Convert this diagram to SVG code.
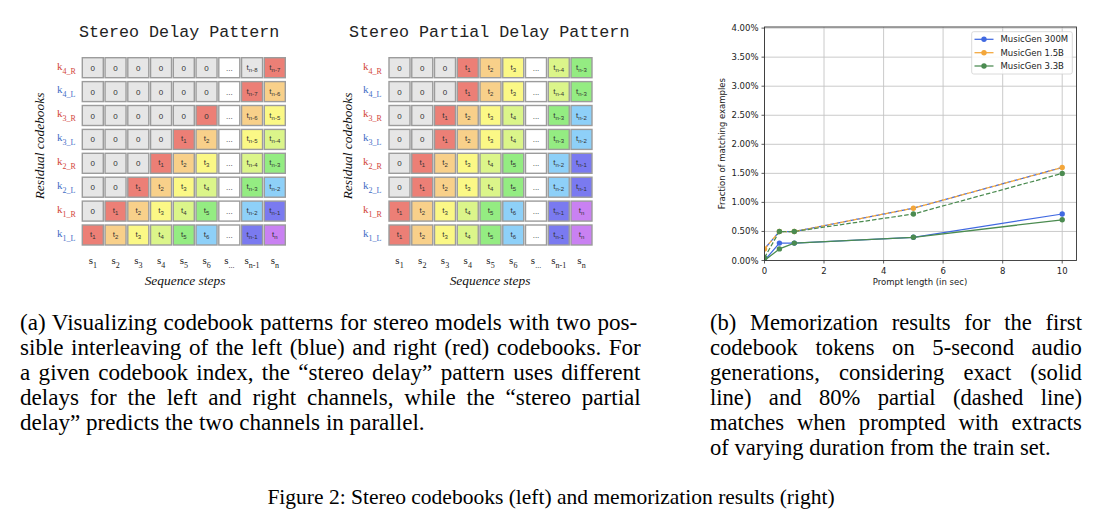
<svg xmlns="http://www.w3.org/2000/svg" width="1102" height="528" viewBox="0 0 1102 528">
<style>
.bg{fill:#fff}
.title{font-family:"Liberation Mono","DejaVu Sans Mono",monospace;font-size:16.7px;fill:#222}
.cell{stroke:#9c9c9c;stroke-width:1.4}
.z{fill:#e6e6e6}.w{fill:#fff}.r{fill:#ec7f76}.o{fill:#f8d08a}.y{fill:#fbf886}.l{fill:#dbf58a}.gr{fill:#94ec82}.lb{fill:#8ed0f8}.in{fill:#7a7af0}.pu{fill:#c981f2}
.ct{font-family:"Liberation Sans",Arial,sans-serif;font-size:8px;fill:#333;text-anchor:middle}
.sb{font-size:6px}
.kl{font-family:"Liberation Serif","Times New Roman",serif;font-size:11px}
.ks{font-size:8px}
.kR{fill:#d2453a}.kL{fill:#3f6cc6}
.sl{font-family:"Liberation Serif","Times New Roman",serif;font-size:11px;fill:#222;text-anchor:middle}
.ss{font-size:8px}
.it{font-family:"Liberation Serif","Times New Roman",serif;font-style:italic;font-size:13.4px;fill:#111;text-anchor:middle}
.capa{font-family:"Liberation Serif","Times New Roman",serif;font-size:23.1px;fill:#000}
.capb{font-family:"Liberation Serif","Times New Roman",serif;font-size:22.6px;fill:#000}
.fcap{font-family:"Liberation Serif","Times New Roman",serif;font-size:21.5px;fill:#000}
.ax{font-family:"DejaVu Sans","Liberation Sans",sans-serif;font-size:8.5px;fill:#222}
.grid{stroke:#c4c4c4;stroke-width:0.9;fill:none}
.spine{stroke:#333;stroke-width:0.9;fill:none}
.tick{stroke:#333;stroke-width:0.8}
.ln{fill:none;stroke-width:1.25;stroke-linejoin:round}
.dash{stroke-dasharray:4.5 2}
.cb{stroke:#4169e1}.co{stroke:#f3a63a}.cg{stroke:#4b8b50}
.fb{fill:#4169e1}.fo{fill:#f3a63a}.fg{fill:#4b8b50}
</style>
<defs>
<clipPath id="plotclip"><rect x="764.5" y="27" width="312" height="233.5"/></clipPath>
</defs>
<rect class="bg" x="0" y="0" width="1102" height="528"/>

<!-- Left panel: Stereo Delay Pattern -->
<g id="stereo-delay">
<text class="title" x="79" y="37.3">Stereo Delay Pattern</text>
<text class="it" transform="translate(43.5,146) rotate(-90)">Residual codebooks</text>
<g id="sd-labels">
<text class="kl kR" x="57" y="69.5">k<tspan class="ks" dy="4">4_R</tspan></text>
<text class="kl kL" x="57" y="93.4">k<tspan class="ks" dy="4">4_L</tspan></text>
<text class="kl kR" x="57" y="117.3">k<tspan class="ks" dy="4">3_R</tspan></text>
<text class="kl kL" x="57" y="141.2">k<tspan class="ks" dy="4">3_L</tspan></text>
<text class="kl kR" x="57" y="165.1">k<tspan class="ks" dy="4">2_R</tspan></text>
<text class="kl kL" x="57" y="189">k<tspan class="ks" dy="4">2_L</tspan></text>
<text class="kl kR" x="57" y="212.9">k<tspan class="ks" dy="4">1_R</tspan></text>
<text class="kl kL" x="57" y="236.8">k<tspan class="ks" dy="4">1_L</tspan></text>
</g>
<g id="sd-row-k4R" transform="translate(82.3,57.7)">
<rect class="cell z" x="0" y="0" width="21" height="20"/><text class="ct" x="10.5" y="13">0</text>
<rect class="cell z" x="22.75" y="0" width="21" height="20"/><text class="ct" x="33.25" y="13">0</text>
<rect class="cell z" x="45.5" y="0" width="21" height="20"/><text class="ct" x="56" y="13">0</text>
<rect class="cell z" x="68.25" y="0" width="21" height="20"/><text class="ct" x="78.75" y="13">0</text>
<rect class="cell z" x="91" y="0" width="21" height="20"/><text class="ct" x="101.5" y="13">0</text>
<rect class="cell z" x="113.75" y="0" width="21" height="20"/><text class="ct" x="124.25" y="13">0</text>
<rect class="cell w" x="136.5" y="0" width="21" height="20"/><text class="ct" x="147" y="13">...</text>
<rect class="cell z" x="159.25" y="0" width="21" height="20"/><text class="ct" x="169.75" y="12">t<tspan class="sb" dy="2">n-8</tspan></text>
<rect class="cell r" x="182" y="0" width="21" height="20"/><text class="ct" x="192.5" y="12">t<tspan class="sb" dy="2">n-7</tspan></text>
</g>
<g id="sd-row-k4L" transform="translate(82.3,81.6)">
<rect class="cell z" x="0" y="0" width="21" height="20"/><text class="ct" x="10.5" y="13">0</text>
<rect class="cell z" x="22.75" y="0" width="21" height="20"/><text class="ct" x="33.25" y="13">0</text>
<rect class="cell z" x="45.5" y="0" width="21" height="20"/><text class="ct" x="56" y="13">0</text>
<rect class="cell z" x="68.25" y="0" width="21" height="20"/><text class="ct" x="78.75" y="13">0</text>
<rect class="cell z" x="91" y="0" width="21" height="20"/><text class="ct" x="101.5" y="13">0</text>
<rect class="cell z" x="113.75" y="0" width="21" height="20"/><text class="ct" x="124.25" y="13">0</text>
<rect class="cell w" x="136.5" y="0" width="21" height="20"/><text class="ct" x="147" y="13">...</text>
<rect class="cell r" x="159.25" y="0" width="21" height="20"/><text class="ct" x="169.75" y="12">t<tspan class="sb" dy="2">n-7</tspan></text>
<rect class="cell o" x="182" y="0" width="21" height="20"/><text class="ct" x="192.5" y="12">t<tspan class="sb" dy="2">n-6</tspan></text>
</g>
<g id="sd-row-k3R" transform="translate(82.3,105.5)">
<rect class="cell z" x="0" y="0" width="21" height="20"/><text class="ct" x="10.5" y="13">0</text>
<rect class="cell z" x="22.75" y="0" width="21" height="20"/><text class="ct" x="33.25" y="13">0</text>
<rect class="cell z" x="45.5" y="0" width="21" height="20"/><text class="ct" x="56" y="13">0</text>
<rect class="cell z" x="68.25" y="0" width="21" height="20"/><text class="ct" x="78.75" y="13">0</text>
<rect class="cell z" x="91" y="0" width="21" height="20"/><text class="ct" x="101.5" y="13">0</text>
<rect class="cell r" x="113.75" y="0" width="21" height="20"/><text class="ct" x="124.25" y="13">0</text>
<rect class="cell w" x="136.5" y="0" width="21" height="20"/><text class="ct" x="147" y="13">...</text>
<rect class="cell o" x="159.25" y="0" width="21" height="20"/><text class="ct" x="169.75" y="12">t<tspan class="sb" dy="2">n-6</tspan></text>
<rect class="cell y" x="182" y="0" width="21" height="20"/><text class="ct" x="192.5" y="12">t<tspan class="sb" dy="2">n-5</tspan></text>
</g>
<g id="sd-row-k3L" transform="translate(82.3,129.4)">
<rect class="cell z" x="0" y="0" width="21" height="20"/><text class="ct" x="10.5" y="13">0</text>
<rect class="cell z" x="22.75" y="0" width="21" height="20"/><text class="ct" x="33.25" y="13">0</text>
<rect class="cell z" x="45.5" y="0" width="21" height="20"/><text class="ct" x="56" y="13">0</text>
<rect class="cell z" x="68.25" y="0" width="21" height="20"/><text class="ct" x="78.75" y="13">0</text>
<rect class="cell r" x="91" y="0" width="21" height="20"/><text class="ct" x="101.5" y="12">t<tspan class="sb" dy="2">1</tspan></text>
<rect class="cell o" x="113.75" y="0" width="21" height="20"/><text class="ct" x="124.25" y="12">t<tspan class="sb" dy="2">2</tspan></text>
<rect class="cell w" x="136.5" y="0" width="21" height="20"/><text class="ct" x="147" y="13">...</text>
<rect class="cell y" x="159.25" y="0" width="21" height="20"/><text class="ct" x="169.75" y="12">t<tspan class="sb" dy="2">n-5</tspan></text>
<rect class="cell l" x="182" y="0" width="21" height="20"/><text class="ct" x="192.5" y="12">t<tspan class="sb" dy="2">n-4</tspan></text>
</g>
<g id="sd-row-k2R" transform="translate(82.3,153.3)">
<rect class="cell z" x="0" y="0" width="21" height="20"/><text class="ct" x="10.5" y="13">0</text>
<rect class="cell z" x="22.75" y="0" width="21" height="20"/><text class="ct" x="33.25" y="13">0</text>
<rect class="cell z" x="45.5" y="0" width="21" height="20"/><text class="ct" x="56" y="13">0</text>
<rect class="cell r" x="68.25" y="0" width="21" height="20"/><text class="ct" x="78.75" y="12">t<tspan class="sb" dy="2">1</tspan></text>
<rect class="cell o" x="91" y="0" width="21" height="20"/><text class="ct" x="101.5" y="12">t<tspan class="sb" dy="2">2</tspan></text>
<rect class="cell y" x="113.75" y="0" width="21" height="20"/><text class="ct" x="124.25" y="12">t<tspan class="sb" dy="2">3</tspan></text>
<rect class="cell w" x="136.5" y="0" width="21" height="20"/><text class="ct" x="147" y="13">...</text>
<rect class="cell l" x="159.25" y="0" width="21" height="20"/><text class="ct" x="169.75" y="12">t<tspan class="sb" dy="2">n-4</tspan></text>
<rect class="cell gr" x="182" y="0" width="21" height="20"/><text class="ct" x="192.5" y="12">t<tspan class="sb" dy="2">n-3</tspan></text>
</g>
<g id="sd-row-k2L" transform="translate(82.3,177.2)">
<rect class="cell z" x="0" y="0" width="21" height="20"/><text class="ct" x="10.5" y="13">0</text>
<rect class="cell z" x="22.75" y="0" width="21" height="20"/><text class="ct" x="33.25" y="13">0</text>
<rect class="cell r" x="45.5" y="0" width="21" height="20"/><text class="ct" x="56" y="12">t<tspan class="sb" dy="2">1</tspan></text>
<rect class="cell o" x="68.25" y="0" width="21" height="20"/><text class="ct" x="78.75" y="12">t<tspan class="sb" dy="2">2</tspan></text>
<rect class="cell y" x="91" y="0" width="21" height="20"/><text class="ct" x="101.5" y="12">t<tspan class="sb" dy="2">3</tspan></text>
<rect class="cell l" x="113.75" y="0" width="21" height="20"/><text class="ct" x="124.25" y="12">t<tspan class="sb" dy="2">4</tspan></text>
<rect class="cell w" x="136.5" y="0" width="21" height="20"/><text class="ct" x="147" y="13">...</text>
<rect class="cell gr" x="159.25" y="0" width="21" height="20"/><text class="ct" x="169.75" y="12">t<tspan class="sb" dy="2">n-3</tspan></text>
<rect class="cell lb" x="182" y="0" width="21" height="20"/><text class="ct" x="192.5" y="12">t<tspan class="sb" dy="2">n-2</tspan></text>
</g>
<g id="sd-row-k1R" transform="translate(82.3,201.1)">
<rect class="cell z" x="0" y="0" width="21" height="20"/><text class="ct" x="10.5" y="13">0</text>
<rect class="cell r" x="22.75" y="0" width="21" height="20"/><text class="ct" x="33.25" y="12">t<tspan class="sb" dy="2">1</tspan></text>
<rect class="cell o" x="45.5" y="0" width="21" height="20"/><text class="ct" x="56" y="12">t<tspan class="sb" dy="2">2</tspan></text>
<rect class="cell y" x="68.25" y="0" width="21" height="20"/><text class="ct" x="78.75" y="12">t<tspan class="sb" dy="2">3</tspan></text>
<rect class="cell l" x="91" y="0" width="21" height="20"/><text class="ct" x="101.5" y="12">t<tspan class="sb" dy="2">4</tspan></text>
<rect class="cell gr" x="113.75" y="0" width="21" height="20"/><text class="ct" x="124.25" y="12">t<tspan class="sb" dy="2">5</tspan></text>
<rect class="cell w" x="136.5" y="0" width="21" height="20"/><text class="ct" x="147" y="13">...</text>
<rect class="cell lb" x="159.25" y="0" width="21" height="20"/><text class="ct" x="169.75" y="12">t<tspan class="sb" dy="2">n-2</tspan></text>
<rect class="cell in" x="182" y="0" width="21" height="20"/><text class="ct" x="192.5" y="12">t<tspan class="sb" dy="2">n-1</tspan></text>
</g>
<g id="sd-row-k1L" transform="translate(82.3,225)">
<rect class="cell r" x="0" y="0" width="21" height="20"/><text class="ct" x="10.5" y="12">t<tspan class="sb" dy="2">1</tspan></text>
<rect class="cell o" x="22.75" y="0" width="21" height="20"/><text class="ct" x="33.25" y="12">t<tspan class="sb" dy="2">2</tspan></text>
<rect class="cell y" x="45.5" y="0" width="21" height="20"/><text class="ct" x="56" y="12">t<tspan class="sb" dy="2">3</tspan></text>
<rect class="cell l" x="68.25" y="0" width="21" height="20"/><text class="ct" x="78.75" y="12">t<tspan class="sb" dy="2">4</tspan></text>
<rect class="cell gr" x="91" y="0" width="21" height="20"/><text class="ct" x="101.5" y="12">t<tspan class="sb" dy="2">5</tspan></text>
<rect class="cell lb" x="113.75" y="0" width="21" height="20"/><text class="ct" x="124.25" y="12">t<tspan class="sb" dy="2">6</tspan></text>
<rect class="cell w" x="136.5" y="0" width="21" height="20"/><text class="ct" x="147" y="13">...</text>
<rect class="cell in" x="159.25" y="0" width="21" height="20"/><text class="ct" x="169.75" y="12">t<tspan class="sb" dy="2">n-1</tspan></text>
<rect class="cell pu" x="182" y="0" width="21" height="20"/><text class="ct" x="192.5" y="12">t<tspan class="sb" dy="2">n</tspan></text>
</g>
<g id="sd-steps" transform="translate(82.3,264)">
<text class="sl" x="10.5">s<tspan class="ss" dy="3.5">1</tspan></text>
<text class="sl" x="33.25">s<tspan class="ss" dy="3.5">2</tspan></text>
<text class="sl" x="56">s<tspan class="ss" dy="3.5">3</tspan></text>
<text class="sl" x="78.75">s<tspan class="ss" dy="3.5">4</tspan></text>
<text class="sl" x="101.5">s<tspan class="ss" dy="3.5">5</tspan></text>
<text class="sl" x="124.25">s<tspan class="ss" dy="3.5">6</tspan></text>
<text class="sl" x="147">s<tspan class="ss" dy="3.5">...</tspan></text>
<text class="sl" x="169.75">s<tspan class="ss" dy="3.5">n-1</tspan></text>
<text class="sl" x="192.5">s<tspan class="ss" dy="3.5">n</tspan></text>
</g>
<text class="it" x="185" y="285">Sequence steps</text>
</g>

<!-- Middle panel: Stereo Partial Delay Pattern -->
<g id="stereo-partial-delay">
<text class="title" x="349" y="37.3">Stereo Partial Delay Pattern</text>
<text class="it" transform="translate(352,146) rotate(-90)">Residual codebooks</text>
<g id="spd-labels">
<text class="kl kR" x="363" y="69.5">k<tspan class="ks" dy="4">4_R</tspan></text>
<text class="kl kL" x="363" y="93.4">k<tspan class="ks" dy="4">4_L</tspan></text>
<text class="kl kR" x="363" y="117.3">k<tspan class="ks" dy="4">3_R</tspan></text>
<text class="kl kL" x="363" y="141.2">k<tspan class="ks" dy="4">3_L</tspan></text>
<text class="kl kR" x="363" y="165.1">k<tspan class="ks" dy="4">2_R</tspan></text>
<text class="kl kL" x="363" y="189">k<tspan class="ks" dy="4">2_L</tspan></text>
<text class="kl kR" x="363" y="212.9">k<tspan class="ks" dy="4">1_R</tspan></text>
<text class="kl kL" x="363" y="236.8">k<tspan class="ks" dy="4">1_L</tspan></text>
</g>
<g id="spd-row-k4R" transform="translate(389,57.7)">
<rect class="cell z" x="0" y="0" width="21" height="20"/><text class="ct" x="10.5" y="13">0</text>
<rect class="cell z" x="22.75" y="0" width="21" height="20"/><text class="ct" x="33.25" y="13">0</text>
<rect class="cell z" x="45.5" y="0" width="21" height="20"/><text class="ct" x="56" y="13">0</text>
<rect class="cell r" x="68.25" y="0" width="21" height="20"/><text class="ct" x="78.75" y="12">t<tspan class="sb" dy="2">1</tspan></text>
<rect class="cell o" x="91" y="0" width="21" height="20"/><text class="ct" x="101.5" y="12">t<tspan class="sb" dy="2">2</tspan></text>
<rect class="cell y" x="113.75" y="0" width="21" height="20"/><text class="ct" x="124.25" y="12">t<tspan class="sb" dy="2">3</tspan></text>
<rect class="cell w" x="136.5" y="0" width="21" height="20"/><text class="ct" x="147" y="13">...</text>
<rect class="cell l" x="159.25" y="0" width="21" height="20"/><text class="ct" x="169.75" y="12">t<tspan class="sb" dy="2">n-4</tspan></text>
<rect class="cell gr" x="182" y="0" width="21" height="20"/><text class="ct" x="192.5" y="12">t<tspan class="sb" dy="2">n-3</tspan></text>
</g>
<g id="spd-row-k4L" transform="translate(389,81.6)">
<rect class="cell z" x="0" y="0" width="21" height="20"/><text class="ct" x="10.5" y="13">0</text>
<rect class="cell z" x="22.75" y="0" width="21" height="20"/><text class="ct" x="33.25" y="13">0</text>
<rect class="cell z" x="45.5" y="0" width="21" height="20"/><text class="ct" x="56" y="13">0</text>
<rect class="cell r" x="68.25" y="0" width="21" height="20"/><text class="ct" x="78.75" y="12">t<tspan class="sb" dy="2">1</tspan></text>
<rect class="cell o" x="91" y="0" width="21" height="20"/><text class="ct" x="101.5" y="12">t<tspan class="sb" dy="2">2</tspan></text>
<rect class="cell y" x="113.75" y="0" width="21" height="20"/><text class="ct" x="124.25" y="12">t<tspan class="sb" dy="2">3</tspan></text>
<rect class="cell w" x="136.5" y="0" width="21" height="20"/><text class="ct" x="147" y="13">...</text>
<rect class="cell l" x="159.25" y="0" width="21" height="20"/><text class="ct" x="169.75" y="12">t<tspan class="sb" dy="2">n-4</tspan></text>
<rect class="cell gr" x="182" y="0" width="21" height="20"/><text class="ct" x="192.5" y="12">t<tspan class="sb" dy="2">n-3</tspan></text>
</g>
<g id="spd-row-k3R" transform="translate(389,105.5)">
<rect class="cell z" x="0" y="0" width="21" height="20"/><text class="ct" x="10.5" y="13">0</text>
<rect class="cell z" x="22.75" y="0" width="21" height="20"/><text class="ct" x="33.25" y="13">0</text>
<rect class="cell r" x="45.5" y="0" width="21" height="20"/><text class="ct" x="56" y="12">t<tspan class="sb" dy="2">1</tspan></text>
<rect class="cell o" x="68.25" y="0" width="21" height="20"/><text class="ct" x="78.75" y="12">t<tspan class="sb" dy="2">2</tspan></text>
<rect class="cell y" x="91" y="0" width="21" height="20"/><text class="ct" x="101.5" y="12">t<tspan class="sb" dy="2">3</tspan></text>
<rect class="cell l" x="113.75" y="0" width="21" height="20"/><text class="ct" x="124.25" y="12">t<tspan class="sb" dy="2">4</tspan></text>
<rect class="cell w" x="136.5" y="0" width="21" height="20"/><text class="ct" x="147" y="13">...</text>
<rect class="cell gr" x="159.25" y="0" width="21" height="20"/><text class="ct" x="169.75" y="12">t<tspan class="sb" dy="2">n-3</tspan></text>
<rect class="cell lb" x="182" y="0" width="21" height="20"/><text class="ct" x="192.5" y="12">t<tspan class="sb" dy="2">n-2</tspan></text>
</g>
<g id="spd-row-k3L" transform="translate(389,129.4)">
<rect class="cell z" x="0" y="0" width="21" height="20"/><text class="ct" x="10.5" y="13">0</text>
<rect class="cell z" x="22.75" y="0" width="21" height="20"/><text class="ct" x="33.25" y="13">0</text>
<rect class="cell r" x="45.5" y="0" width="21" height="20"/><text class="ct" x="56" y="12">t<tspan class="sb" dy="2">1</tspan></text>
<rect class="cell o" x="68.25" y="0" width="21" height="20"/><text class="ct" x="78.75" y="12">t<tspan class="sb" dy="2">2</tspan></text>
<rect class="cell y" x="91" y="0" width="21" height="20"/><text class="ct" x="101.5" y="12">t<tspan class="sb" dy="2">3</tspan></text>
<rect class="cell l" x="113.75" y="0" width="21" height="20"/><text class="ct" x="124.25" y="12">t<tspan class="sb" dy="2">4</tspan></text>
<rect class="cell w" x="136.5" y="0" width="21" height="20"/><text class="ct" x="147" y="13">...</text>
<rect class="cell gr" x="159.25" y="0" width="21" height="20"/><text class="ct" x="169.75" y="12">t<tspan class="sb" dy="2">n-3</tspan></text>
<rect class="cell lb" x="182" y="0" width="21" height="20"/><text class="ct" x="192.5" y="12">t<tspan class="sb" dy="2">n-2</tspan></text>
</g>
<g id="spd-row-k2R" transform="translate(389,153.3)">
<rect class="cell z" x="0" y="0" width="21" height="20"/><text class="ct" x="10.5" y="13">0</text>
<rect class="cell r" x="22.75" y="0" width="21" height="20"/><text class="ct" x="33.25" y="12">t<tspan class="sb" dy="2">1</tspan></text>
<rect class="cell o" x="45.5" y="0" width="21" height="20"/><text class="ct" x="56" y="12">t<tspan class="sb" dy="2">2</tspan></text>
<rect class="cell y" x="68.25" y="0" width="21" height="20"/><text class="ct" x="78.75" y="12">t<tspan class="sb" dy="2">3</tspan></text>
<rect class="cell l" x="91" y="0" width="21" height="20"/><text class="ct" x="101.5" y="12">t<tspan class="sb" dy="2">4</tspan></text>
<rect class="cell gr" x="113.75" y="0" width="21" height="20"/><text class="ct" x="124.25" y="12">t<tspan class="sb" dy="2">5</tspan></text>
<rect class="cell w" x="136.5" y="0" width="21" height="20"/><text class="ct" x="147" y="13">...</text>
<rect class="cell lb" x="159.25" y="0" width="21" height="20"/><text class="ct" x="169.75" y="12">t<tspan class="sb" dy="2">n-2</tspan></text>
<rect class="cell in" x="182" y="0" width="21" height="20"/><text class="ct" x="192.5" y="12">t<tspan class="sb" dy="2">n-1</tspan></text>
</g>
<g id="spd-row-k2L" transform="translate(389,177.2)">
<rect class="cell z" x="0" y="0" width="21" height="20"/><text class="ct" x="10.5" y="13">0</text>
<rect class="cell r" x="22.75" y="0" width="21" height="20"/><text class="ct" x="33.25" y="12">t<tspan class="sb" dy="2">1</tspan></text>
<rect class="cell o" x="45.5" y="0" width="21" height="20"/><text class="ct" x="56" y="12">t<tspan class="sb" dy="2">2</tspan></text>
<rect class="cell y" x="68.25" y="0" width="21" height="20"/><text class="ct" x="78.75" y="12">t<tspan class="sb" dy="2">3</tspan></text>
<rect class="cell l" x="91" y="0" width="21" height="20"/><text class="ct" x="101.5" y="12">t<tspan class="sb" dy="2">4</tspan></text>
<rect class="cell gr" x="113.75" y="0" width="21" height="20"/><text class="ct" x="124.25" y="12">t<tspan class="sb" dy="2">5</tspan></text>
<rect class="cell w" x="136.5" y="0" width="21" height="20"/><text class="ct" x="147" y="13">...</text>
<rect class="cell lb" x="159.25" y="0" width="21" height="20"/><text class="ct" x="169.75" y="12">t<tspan class="sb" dy="2">n-2</tspan></text>
<rect class="cell in" x="182" y="0" width="21" height="20"/><text class="ct" x="192.5" y="12">t<tspan class="sb" dy="2">n-1</tspan></text>
</g>
<g id="spd-row-k1R" transform="translate(389,201.1)">
<rect class="cell r" x="0" y="0" width="21" height="20"/><text class="ct" x="10.5" y="12">t<tspan class="sb" dy="2">1</tspan></text>
<rect class="cell o" x="22.75" y="0" width="21" height="20"/><text class="ct" x="33.25" y="12">t<tspan class="sb" dy="2">2</tspan></text>
<rect class="cell y" x="45.5" y="0" width="21" height="20"/><text class="ct" x="56" y="12">t<tspan class="sb" dy="2">3</tspan></text>
<rect class="cell l" x="68.25" y="0" width="21" height="20"/><text class="ct" x="78.75" y="12">t<tspan class="sb" dy="2">4</tspan></text>
<rect class="cell gr" x="91" y="0" width="21" height="20"/><text class="ct" x="101.5" y="12">t<tspan class="sb" dy="2">5</tspan></text>
<rect class="cell lb" x="113.75" y="0" width="21" height="20"/><text class="ct" x="124.25" y="12">t<tspan class="sb" dy="2">6</tspan></text>
<rect class="cell w" x="136.5" y="0" width="21" height="20"/><text class="ct" x="147" y="13">...</text>
<rect class="cell in" x="159.25" y="0" width="21" height="20"/><text class="ct" x="169.75" y="12">t<tspan class="sb" dy="2">n-1</tspan></text>
<rect class="cell pu" x="182" y="0" width="21" height="20"/><text class="ct" x="192.5" y="12">t<tspan class="sb" dy="2">n</tspan></text>
</g>
<g id="spd-row-k1L" transform="translate(389,225)">
<rect class="cell r" x="0" y="0" width="21" height="20"/><text class="ct" x="10.5" y="12">t<tspan class="sb" dy="2">1</tspan></text>
<rect class="cell o" x="22.75" y="0" width="21" height="20"/><text class="ct" x="33.25" y="12">t<tspan class="sb" dy="2">2</tspan></text>
<rect class="cell y" x="45.5" y="0" width="21" height="20"/><text class="ct" x="56" y="12">t<tspan class="sb" dy="2">3</tspan></text>
<rect class="cell l" x="68.25" y="0" width="21" height="20"/><text class="ct" x="78.75" y="12">t<tspan class="sb" dy="2">4</tspan></text>
<rect class="cell gr" x="91" y="0" width="21" height="20"/><text class="ct" x="101.5" y="12">t<tspan class="sb" dy="2">5</tspan></text>
<rect class="cell lb" x="113.75" y="0" width="21" height="20"/><text class="ct" x="124.25" y="12">t<tspan class="sb" dy="2">6</tspan></text>
<rect class="cell w" x="136.5" y="0" width="21" height="20"/><text class="ct" x="147" y="13">...</text>
<rect class="cell in" x="159.25" y="0" width="21" height="20"/><text class="ct" x="169.75" y="12">t<tspan class="sb" dy="2">n-1</tspan></text>
<rect class="cell pu" x="182" y="0" width="21" height="20"/><text class="ct" x="192.5" y="12">t<tspan class="sb" dy="2">n</tspan></text>
</g>
<g id="spd-steps" transform="translate(389,264)">
<text class="sl" x="10.5">s<tspan class="ss" dy="3.5">1</tspan></text>
<text class="sl" x="33.25">s<tspan class="ss" dy="3.5">2</tspan></text>
<text class="sl" x="56">s<tspan class="ss" dy="3.5">3</tspan></text>
<text class="sl" x="78.75">s<tspan class="ss" dy="3.5">4</tspan></text>
<text class="sl" x="101.5">s<tspan class="ss" dy="3.5">5</tspan></text>
<text class="sl" x="124.25">s<tspan class="ss" dy="3.5">6</tspan></text>
<text class="sl" x="147">s<tspan class="ss" dy="3.5">...</tspan></text>
<text class="sl" x="169.75">s<tspan class="ss" dy="3.5">n-1</tspan></text>
<text class="sl" x="192.5">s<tspan class="ss" dy="3.5">n</tspan></text>
</g>
<text class="it" x="490" y="285">Sequence steps</text>
</g>

<!-- Right panel: chart -->
<g id="chart">
<g id="chart-grid" class="grid">
<path d="M764.5 27V260.5M824 27V260.5M883.6 27V260.5M943.1 27V260.5M1002.7 27V260.5M1062.2 27V260.5"/>
<path d="M764.5 231.45H1076.5M764.5 202.4H1076.5M764.5 173.35H1076.5M764.5 144.3H1076.5M764.5 115.25H1076.5M764.5 86.2H1076.5M764.5 57.15H1076.5M764.5 28.1H1076.5"/>
</g>
<g id="chart-ticks" class="tick">
<path d="M761.5 260.5H764.5M761.5 231.45H764.5M761.5 202.4H764.5M761.5 173.35H764.5M761.5 144.3H764.5M761.5 115.25H764.5M761.5 86.2H764.5M761.5 57.15H764.5M761.5 28.1H764.5"/>
<path d="M764.5 260.5V263.5M824 260.5V263.5M883.6 260.5V263.5M943.1 260.5V263.5M1002.7 260.5V263.5M1062.2 260.5V263.5"/>
</g>
<g id="y-ticklabels" class="ax" text-anchor="end">
<text x="758.5" y="263.5">0.00%</text>
<text x="758.5" y="234.45">0.50%</text>
<text x="758.5" y="205.4">1.00%</text>
<text x="758.5" y="176.35">1.50%</text>
<text x="758.5" y="147.3">2.00%</text>
<text x="758.5" y="118.25">2.50%</text>
<text x="758.5" y="89.2">3.00%</text>
<text x="758.5" y="60.15">3.50%</text>
<text x="758.5" y="31.1">4.00%</text>
</g>
<g id="x-ticklabels" class="ax" text-anchor="middle">
<text x="764.5" y="273.8">0</text>
<text x="824" y="273.8">2</text>
<text x="883.6" y="273.8">4</text>
<text x="943.1" y="273.8">6</text>
<text x="1002.7" y="273.8">8</text>
<text x="1062.2" y="273.8">10</text>
</g>
<text class="ax" x="920" y="284.8" text-anchor="middle">Prompt length (in sec)</text>
<text class="ax" transform="translate(725,143.6) rotate(-90)" text-anchor="middle">Fraction of matching examples</text>
<g id="series" clip-path="url(#plotclip)">
<g id="s300m">
<polyline class="ln cb" points="764.5,260.5 779.4,243.1 794.3,243.1 913.4,237.3 1062.2,214"/>
<polyline class="ln cb dash" style="stroke-dashoffset:3.2" points="764.5,248.9 779.4,231.5 794.3,231.5 913.4,208.2 1062.2,167.5"/>
<g class="fb">
<circle cx="764.5" cy="260.5" r="2.7"/><circle cx="779.4" cy="243.1" r="2.7"/><circle cx="794.3" cy="243.1" r="2.7"/><circle cx="913.4" cy="237.3" r="2.7"/><circle cx="1062.2" cy="214" r="2.7"/>
</g>
</g>
<g id="s15b">
<polyline class="ln co dash" points="764.5,248.9 779.4,231.5 794.3,231.5 913.4,208.2 1062.2,167.5"/>
<g class="fo">
<circle cx="764.5" cy="248.9" r="2.7"/><circle cx="779.4" cy="231.5" r="2.7"/><circle cx="794.3" cy="231.5" r="2.7"/><circle cx="913.4" cy="208.2" r="2.7"/><circle cx="1062.2" cy="167.5" r="2.7"/>
</g>
</g>
<g id="s33b">
<polyline class="ln cg" points="764.5,260.5 779.4,248.9 794.3,243.1 913.4,237.3 1062.2,219.8"/>
<polyline class="ln cg dash" points="764.5,257.6 779.4,231.5 794.3,231.5 913.4,214 1062.2,173.4"/>
<g class="fg">
<circle cx="764.5" cy="260.5" r="2.7"/><circle cx="779.4" cy="248.9" r="2.7"/><circle cx="794.3" cy="243.1" r="2.7"/><circle cx="913.4" cy="237.3" r="2.7"/><circle cx="1062.2" cy="219.8" r="2.7"/>
<circle cx="764.5" cy="257.6" r="2.7"/><circle cx="779.4" cy="231.5" r="2.7"/><circle cx="794.3" cy="231.5" r="2.7"/><circle cx="913.4" cy="214" r="2.7"/><circle cx="1062.2" cy="173.4" r="2.7"/>
</g>
</g>
</g>
<rect class="spine" x="764.5" y="27" width="312" height="233.5"/>
<g id="legend">
<rect x="971.7" y="31.7" width="100.6" height="42.3" rx="2" fill="#fff" fill-opacity="0.85" stroke="#d0d0d0" stroke-width="0.8"/>
<line class="ln cb" x1="974.5" y1="39.3" x2="993.5" y2="39.3"/><circle class="fb" cx="984" cy="39.3" r="2.7"/>
<text class="ax" x="1000.5" y="42.3">MusicGen 300M</text>
<line class="ln co" x1="974.5" y1="52.7" x2="993.5" y2="52.7"/><circle class="fo" cx="984" cy="52.7" r="2.7"/>
<text class="ax" x="1000.5" y="55.7">MusicGen 1.5B</text>
<line class="ln cg" x1="974.5" y1="66" x2="993.5" y2="66"/><circle class="fg" cx="984" cy="66" r="2.7"/>
<text class="ax" x="1000.5" y="69">MusicGen 3.3B</text>
</g>
</g>

<!-- Captions -->
<g id="caption-a" class="capa">
<text x="20" y="330" word-spacing="0.87">(a) Visualizing codebook patterns for stereo models with two pos-</text>
<text x="20" y="355" word-spacing="1.73">sible interleaving of the left (blue) and right (red) codebooks. For</text>
<text x="20" y="380" word-spacing="2.57">a given codebook index, the “stereo delay” pattern uses different</text>
<text x="20" y="405" word-spacing="5.07">delays for the left and right channels, while the “stereo partial</text>
<text x="20" y="430">delay” predicts the two channels in parallel.</text>
</g>
<g id="caption-b" class="capb">
<text x="710" y="330" word-spacing="8">(b) Memorization results for the first</text>
<text x="710" y="355" word-spacing="12">codebook tokens on 5-second audio</text>
<text x="710" y="380" word-spacing="13.5">generations, considering exact (solid</text>
<text x="710" y="405" word-spacing="11.8">line) and 80% partial (dashed line)</text>
<text x="710" y="430" word-spacing="7.3">matches when prompted with extracts</text>
<text x="710" y="455">of varying duration from the train set.</text>
</g>
<text id="figure-caption" class="fcap" x="551" y="504" text-anchor="middle">Figure 2: Stereo codebooks (left) and memorization results (right)</text>
</svg>
